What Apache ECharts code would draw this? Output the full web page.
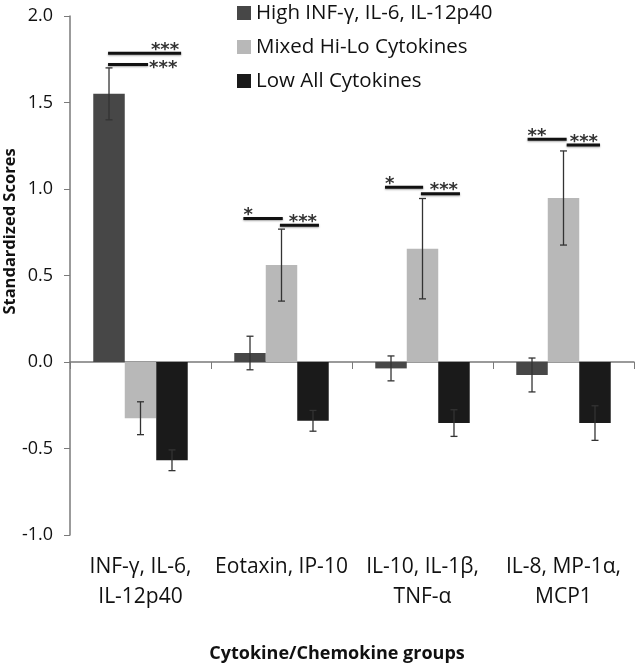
<!DOCTYPE html>
<html>
<head>
<meta charset="utf-8">
<script src="https://cdn.jsdelivr.net/npm/echarts@6/dist/echarts.min.js"></script>
<style>
  html, body { margin: 0; padding: 0; background: #fff; }
  #chart { width: 638px; height: 667px; }
</style>
</head>
<body>
<div id="chart"></div>
<script>
// data
var categories = ['INF-γ, IL-6,\nIL-12p40', 'Eotaxin, IP-10', 'IL-10, IL-1β,\nTNF-α', 'IL-8, MP-1α,\nMCP1'];
var seriesNames = ['High INF-γ, IL-6, IL-12p40', 'Mixed Hi-Lo Cytokines', 'Low All Cytokines'];
var highVals  = [1.55, 0.052, -0.037, -0.075];
var mixedVals = [-0.325, 0.56, 0.655, 0.948];
var lowVals   = [-0.568, -0.34, -0.353, -0.353];
var highErr  = [0.15, 0.097, 0.072, 0.098];
var mixedErr = [0.095, 0.208, 0.29, 0.272];
var lowErr   = [0.06, 0.06, 0.077, 0.10];
var yTicks = [-1.0, -0.5, 0.0, 0.5, 1.0, 1.5, 2.0];

// significance bars: category, height, from/to (in bar-slot units), stars, label side
var sigCat   = [0, 0, 1, 1, 2, 2, 3, 3];
var sigY     = [1.784, 1.72, 0.83, 0.79, 1.01, 0.973, 1.288, 1.255];
var sigFrom  = [-1.03, -1.03, -1.21, -0.05, -1.19, -0.05, -1.14, 0.10];
var sigTo    = [1.29, 0.24, 0.04, 1.19, 0.02, 1.19, 0.10, 1.16];
var sigStars = ['***', '***', '*', '***', '*', '***', '**', '***'];
var sigSide  = ['aboveRight', 'right', 'aboveLeft', 'aboveRight', 'aboveLeft', 'aboveRight', 'aboveLeft', 'aboveRight'];

var colors = ['#474747', '#b8b8b8', '#1a1a1a'];
var FONT = 'Open Sans';
var GAP = 0.33;

var chart = echarts.init(document.getElementById('chart'));

var errData = [];
[highVals, mixedVals, lowVals].forEach(function (vals, s) {
  var errs = [highErr, mixedErr, lowErr][s];
  vals.forEach(function (v, i) {
    errData.push([i, v - errs[i], v + errs[i], s - 1]);
  });
});

var sigData = sigCat.map(function (c, i) {
  return [c, sigY[i], sigFrom[i], sigTo[i], i];
});

function slotWidth(api) {
  return api.size([1, 0])[0] * (1 - GAP) / 3;
}

var option = {
  animation: false,
  color: colors,
  textStyle: { fontFamily: FONT },
  grid: { left: 70, right: 4, top: 16, bottom: 132, containLabel: false, outerBoundsMode: 'none' },
  legend: {
    orient: 'vertical',
    left: 237,
    top: 1,
    padding: 0,
    itemWidth: 14,
    itemHeight: 14,
    itemGap: 10,
    icon: 'rect',
    textStyle: { fontSize: 20.5, color: '#111', fontFamily: FONT, lineHeight: 24 },
    data: seriesNames
  },
  xAxis: [{
    type: 'category',
    data: categories,
    axisLine: { onZero: true, lineStyle: { color: '#7a7a7a', width: 1.5 } },
    axisTick: { show: true, length: 7, lineStyle: { color: '#7a7a7a' } },
    axisLabel: { show: false }
  }, {
    type: 'category',
    data: categories,
    position: 'bottom',
    axisLine: { show: false, onZero: false },
    axisTick: { show: false },
    axisLabel: { fontSize: 21, color: '#111', margin: 17, lineHeight: 30, fontFamily: FONT, interval: 0 },
    name: 'Cytokine/Chemokine groups',
    nameLocation: 'middle',
    nameGap: 110,
    nameTextStyle: { fontSize: 18, fontWeight: 'bold', color: '#111', fontFamily: FONT, padding: [0, 30, 0, 0] }
  }],
  yAxis: {
    type: 'value',
    min: yTicks[0],
    max: yTicks[yTicks.length - 1],
    interval: 0.5,
    splitLine: { show: false },
    axisLine: { show: true, lineStyle: { color: '#7a7a7a', width: 1.5 } },
    axisTick: { show: true, length: 6, lineStyle: { color: '#7a7a7a' } },
    axisLabel: {
      fontSize: 18, color: '#111', margin: 17, fontFamily: FONT,
      formatter: function (v) { return v.toFixed(1); }
    },
    name: 'Standardized Scores',
    nameLocation: 'middle',
    nameGap: 51,
    nameMoveOverlap: false,
    nameTextStyle: { fontSize: 16.5, fontWeight: 'bold', color: '#111', fontFamily: FONT, padding: [0, 0, 0, 88] }
  },
  series: [
    { name: seriesNames[0], type: 'bar', data: highVals, barGap: '0%', barCategoryGap: '33%', itemStyle: { color: colors[0] } },
    { name: seriesNames[1], type: 'bar', data: mixedVals, barGap: '0%', barCategoryGap: '33%', itemStyle: { color: colors[1] } },
    { name: seriesNames[2], type: 'bar', data: lowVals, barGap: '0%', barCategoryGap: '33%', itemStyle: { color: colors[2] } },
    {
      type: 'custom',
      name: 'errors',
      data: errData,
      z: 5,
      encode: { x: 0, y: [1, 2] },
      renderItem: function (params, api) {
        var lo = api.coord([api.value(0), api.value(1)]);
        var hi = api.coord([api.value(0), api.value(2)]);
        var x = lo[0] + api.value(3) * slotWidth(api);
        var cap = 3.5;
        var st = { stroke: '#333', lineWidth: 1.3 };
        return {
          type: 'group',
          children: [
            { type: 'line', shape: { x1: x, y1: lo[1], x2: x, y2: hi[1] }, style: st },
            { type: 'line', shape: { x1: x - cap, y1: lo[1], x2: x + cap, y2: lo[1] }, style: st },
            { type: 'line', shape: { x1: x - cap, y1: hi[1], x2: x + cap, y2: hi[1] }, style: st }
          ]
        };
      }
    },
    {
      type: 'custom',
      name: 'significance',
      data: sigData,
      z: 6,
      encode: { x: 0, y: 1 },
      renderItem: function (params, api) {
        var p = api.coord([api.value(0), api.value(1)]);
        var w = slotWidth(api);
        var x1 = p[0] + api.value(2) * w;
        var x2 = p[0] + api.value(3) * w;
        var idx = api.value(4);
        var side = sigSide[idx];
        var tx, ty, align;
        if (side === 'right') { tx = x2 + 1; ty = p[1] + 4; align = 'left'; }
        else if (side === 'aboveLeft') { tx = x1; ty = p[1] - 3; align = 'left'; }
        else { tx = x2 - 2; ty = p[1] - 3; align = 'right'; }
        return {
          type: 'group',
          children: [
            { type: 'line', shape: { x1: x1, y1: p[1], x2: x2, y2: p[1] },
              style: { stroke: '#111', lineWidth: 3, shadowColor: 'rgba(0,0,0,0.35)', shadowBlur: 2, shadowOffsetY: 1 } },
            { type: 'text', x: tx, y: ty,
              style: { text: sigStars[idx], fill: '#333', font: 'bold 18px "DejaVu Sans"', align: align, verticalAlign: 'middle' } }
          ]
        };
      }
    }
  ]
};
chart.setOption(option);
</script>
</body>
</html>
